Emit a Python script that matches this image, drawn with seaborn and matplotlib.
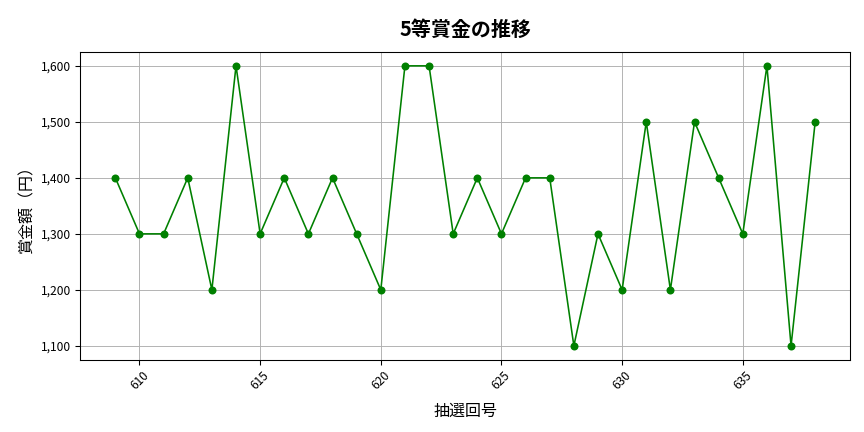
import matplotlib
matplotlib.use('Agg')
import matplotlib.pyplot as plt
import matplotlib.ticker as mticker
import pandas as pd
import seaborn as sns

# 抽選回と5等賞金
draw_no = list(range(609, 639))
prize = [1400, 1300, 1300, 1400, 1200, 1600, 1300, 1400, 1300, 1400,
         1300, 1200, 1600, 1600, 1300, 1400, 1300, 1400, 1400, 1100,
         1300, 1200, 1500, 1200, 1500, 1400, 1300, 1600, 1100, 1500]

df = pd.DataFrame({'抽選回号': draw_no, '賞金額': prize})

plt.rcParams['font.family'] = ['Noto Sans CJK JP', 'DejaVu Sans']

fig, ax = plt.subplots(figsize=(9, 4.5), dpi=96)
sns.lineplot(data=df, x='抽選回号', y='賞金額', marker='o', color='green',
             markersize=6, markeredgewidth=0, linewidth=1.2, ax=ax)

ax.set_title('5等賞金の推移', fontsize=15, fontweight='bold', pad=12)
ax.set_xlabel('抽選回号', fontsize=12, labelpad=8)
ax.set_ylabel('賞金額（円）', fontsize=12)
ax.yaxis.set_major_formatter(mticker.FuncFormatter(lambda v, p: f'{int(v):,}'))
ax.grid(True, color='#b0b0b0', linewidth=0.7)
plt.setp(ax.get_xticklabels(), rotation=45)
ax.tick_params(labelsize=9)

plt.subplots_adjust(left=0.093, right=0.984, top=0.88, bottom=0.167)
plt.savefig('out.png')
